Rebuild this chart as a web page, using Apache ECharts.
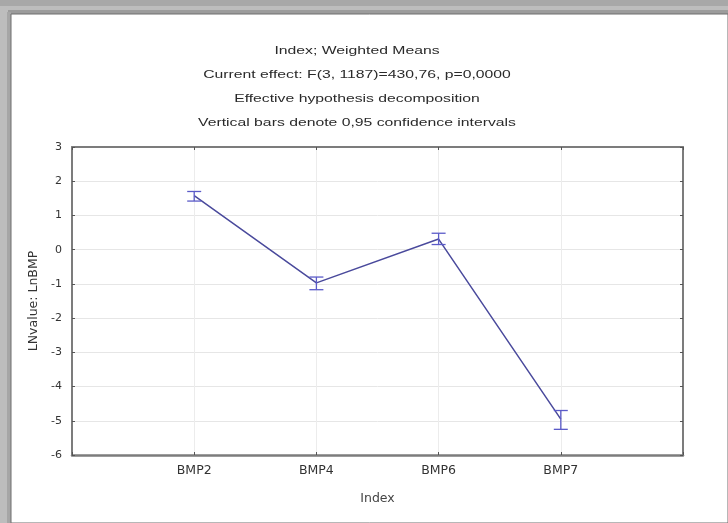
<!DOCTYPE html>
<html>
<head>
<meta charset="utf-8">
<script src="https://cdn.jsdelivr.net/npm/echarts@6/dist/echarts.min.js"></script>
<style>
html,body{margin:0;padding:0;}
#c{width:728px;height:523px;}
</style>
</head>
<body>
<div id="c"></div>
<script>
var categories = ['BMP2', 'BMP4', 'BMP6', 'BMP7'];
var means = [1.58, -0.97, 0.31, -4.95];
var lower = [1.42, -1.17, 0.15, -5.25];
var upper = [1.70, -0.80, 0.48, -4.70];
var yTicks = [-6, -5, -4, -3, -2, -1, 0, 1, 2, 3];
var titleLines = [
  'Index; Weighted Means',
  'Current effect: F(3, 1187)=430,76, p=0,0000',
  'Effective hypothesis decomposition',
  'Vertical bars denote 0,95 confidence intervals'
];

var chart = echarts.init(document.getElementById('c'), null, {renderer: 'canvas'});
var font = 'Liberation Sans, Arial, sans-serif';
var wfont = 'DejaVu Sans, Verdana, sans-serif';
var lineData = categories.map(function (c, i) { return [i + 1, means[i]]; });
var errData = categories.map(function (c, i) { return [i + 1, lower[i], upper[i]]; });
var lineColor = '#4a4a9c';
var errColor = '#5b5bc8';

chart.setOption({
  backgroundColor: '#ffffff',
  animation: false,
  graphic: [
    {type: 'rect', shape: {x: 0, y: 0, width: 728, height: 523}, style: {fill: '#bdbdbd'}, z: -10, silent: true},
    {type: 'rect', shape: {x: 0, y: 0, width: 728, height: 6}, style: {fill: '#a8a8a8'}, z: -9, silent: true},
    {type: 'rect', shape: {x: 8, y: 10, width: 720, height: 4}, style: {fill: '#9c9c9c'}, z: -9, silent: true},
    {type: 'rect', shape: {x: 7, y: 12, width: 4, height: 511}, style: {fill: '#a6a6a6'}, z: -9, silent: true},
    {type: 'rect', shape: {x: 11, y: 14, width: 717, height: 509}, style: {fill: '#ffffff', stroke: '#6f6f6f', lineWidth: 1}, z: -8, silent: true}
  ].concat(titleLines.map(function (t, i) {
    return {
      type: 'text', x: 357, y: 51 + i * 24, z: 10, scaleX: 1.5, scaleY: 1,
      style: {text: t, font: '10.5px ' + font, fill: '#2a2a2a', align: 'center', verticalAlign: 'middle'}
    };
  })),
  grid: {left: 72, right: 45, top: 147, bottom: 68, containLabel: false},
  xAxis: [{
    type: 'value', min: 0, max: 5, interval: 1,
    name: 'Index', nameLocation: 'middle', nameGap: 37,
    nameTextStyle: {fontFamily: wfont, fontSize: 12.5, color: '#444'},
    axisLine: {show: true, onZero: false, lineStyle: {color: '#7c7c7c', width: 2.5}},
    axisTick: {show: true, inside: true, length: 3, lineStyle: {color: '#555'}},
    axisLabel: {
      fontFamily: wfont, fontSize: 12.5, color: '#333', margin: 9,
      formatter: function (v) { return (v >= 1 && v <= categories.length) ? categories[v - 1] : ''; }
    },
    splitLine: {show: true, lineStyle: {color: '#ececec', width: 1}}
  }, {
    type: 'value', min: 0, max: 5, interval: 1, position: 'top',
    axisLine: {show: true, onZero: false, lineStyle: {color: '#7c7c7c', width: 2}},
    axisTick: {show: true, inside: true, length: 3, lineStyle: {color: '#555'}},
    axisLabel: {show: false}, splitLine: {show: false}
  }],
  yAxis: [{
    type: 'value', min: yTicks[0], max: yTicks[yTicks.length - 1], interval: 1,
    name: 'LNvalue: LnBMP', nameLocation: 'middle', nameGap: 29, nameRotate: 90,
    nameTextStyle: {fontFamily: wfont, fontSize: 12.5, color: '#333'},
    axisLine: {show: true, onZero: false, lineStyle: {color: '#7c7c7c', width: 2}},
    axisTick: {show: true, inside: true, length: 3, lineStyle: {color: '#555'}},
    axisLabel: {fontFamily: wfont, fontSize: 11, color: '#333', margin: 10},
    splitLine: {show: true, lineStyle: {color: '#e6e6e6', width: 1}}
  }, {
    type: 'value', min: yTicks[0], max: yTicks[yTicks.length - 1], interval: 1, position: 'right',
    axisLine: {show: true, onZero: false, lineStyle: {color: '#7c7c7c', width: 2}},
    axisTick: {show: true, inside: true, length: 3, lineStyle: {color: '#555'}},
    axisLabel: {show: false}, splitLine: {show: false}
  }],
  series: [{
    type: 'line', data: lineData, xAxisIndex: 0, yAxisIndex: 0,
    symbol: 'none', lineStyle: {color: lineColor, width: 1.5}, z: 5
  }, {
    type: 'custom', data: errData, xAxisIndex: 0, yAxisIndex: 0, z: 6,
    renderItem: function (params, api) {
      var x = api.value(0);
      var lo = api.coord([x, api.value(1)]);
      var hi = api.coord([x, api.value(2)]);
      var cw = 7;
      var st = {stroke: errColor, lineWidth: 1.3};
      return {
        type: 'group',
        children: [
          {type: 'line', shape: {x1: lo[0], y1: lo[1], x2: hi[0], y2: hi[1]}, style: st},
          {type: 'line', shape: {x1: lo[0] - cw, y1: lo[1], x2: lo[0] + cw, y2: lo[1]}, style: st},
          {type: 'line', shape: {x1: hi[0] - cw, y1: hi[1], x2: hi[0] + cw, y2: hi[1]}, style: st}
        ]
      };
    }
  }]
});
</script>
</body>
</html>
